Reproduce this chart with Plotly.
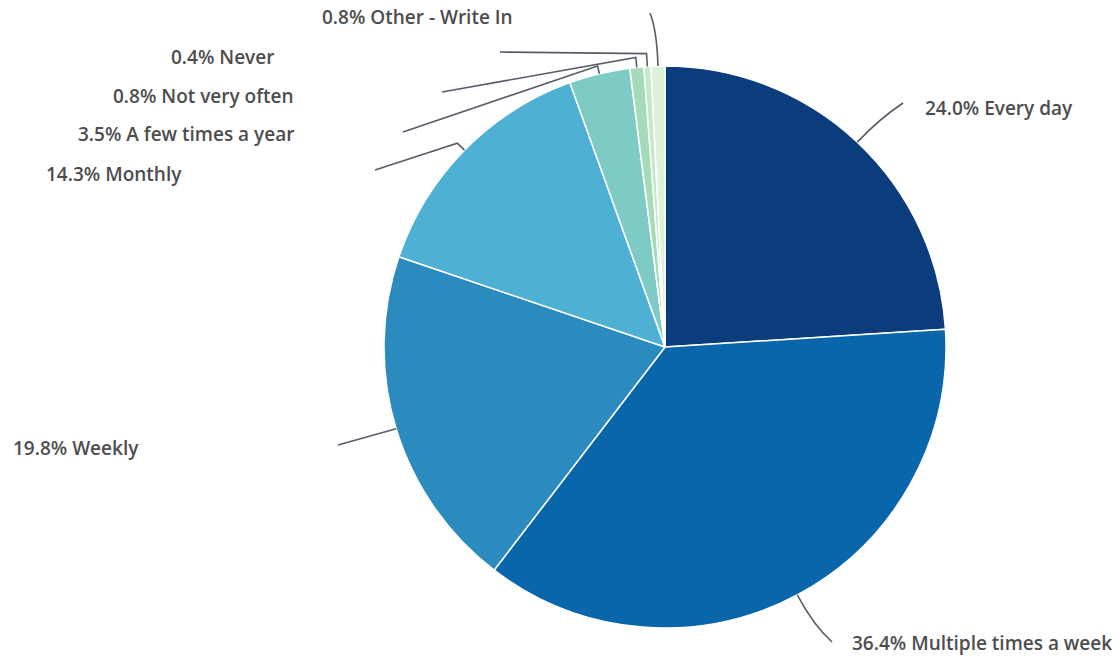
import math
import plotly.graph_objects as go

labels = ["Every day", "Multiple times a week", "Weekly", "Monthly",
          "A few times a year", "Not very often", "Never", "Other - Write In"]
values = [24.0, 36.4, 19.8, 14.3, 3.5, 0.8, 0.4, 0.8]
colors = ["#0b3c7c", "#0a66aa", "#2b8abe", "#4eb0d3", "#7ecbc5", "#a6dbb8", "#c4e9c6", "#dcf2da"]

W, H = 1117, 660
cx, cy, R = 665, 347, 281

# label layout (pixel anchors): x, y, xanchor
label_pos = [(923, 108, "left"), (1114, 643, "right"), (141, 448, "right"), (184, 174, "right"),
             (296, 134, "right"), (296, 96, "right"), (276, 57, "right"), (320, 17, "left")]
# leader styling: radial extension for bend, end point, curve kind
leader = [(32, (903, 103), "Q"), (35, (832, 642), "Q"), (0, (338, 445), "L"), (10, (375, 170), "L"),
          (8, (403, 132), "L"), (10, (442, 92), "L"), (13, (500, 52), "L"), (35, (650, 13), "Q")]

fig = go.Figure(go.Pie(
    labels=labels, values=values, sort=False, direction="clockwise", rotation=0,
    marker=dict(colors=colors, line=dict(color="white", width=1.5)),
    textinfo="none", hoverinfo="label+percent", showlegend=False,
    domain=dict(x=[(cx - R) / W, (cx + R) / W], y=[1 - (cy + R) / H, 1 - (cy - R) / H]),
))

def px(x, y):
    return x / W, 1 - y / H

total = sum(values)
cum = 0
shapes, annotations = [], []
for i, v in enumerate(values):
    mid = (cum + v / 2) / total * 2 * math.pi
    cum += v
    s = (cx + R * math.sin(mid), cy - R * math.cos(mid))
    ext, end, kind = leader[i]
    e = (cx + (R + ext) * math.sin(mid), cy - (R + ext) * math.cos(mid))
    p0, p1, p2 = px(*s), px(*e), px(*end)
    if kind == "Q":
        path = f"M {p0[0]},{p0[1]} Q {p1[0]},{p1[1]} {p2[0]},{p2[1]}"
    else:
        path = f"M {p0[0]},{p0[1]} L {p1[0]},{p1[1]} L {p2[0]},{p2[1]}"
    shapes.append(dict(type="path", path=path, xref="paper", yref="paper",
                       line=dict(color="#555d69", width=1.6)))
    lx, ly, anc = label_pos[i]
    ax, ay = px(lx, ly)
    annotations.append(dict(x=ax, y=ay, xref="paper", yref="paper", xanchor=anc, yanchor="middle",
                            text=f"{v:.1f}% {labels[i]}", showarrow=False,
                            font=dict(family="Open Sans", size=19, color="#4d4d4d", weight=600)))

fig.update_layout(width=W, height=H, margin=dict(l=0, r=0, t=0, b=0),
                  paper_bgcolor="white", plot_bgcolor="white",
                  shapes=shapes, annotations=annotations)
fig.write_html("out.html", config={"displayModeBar": False},
               post_script="document.body.style.margin='0px';")
